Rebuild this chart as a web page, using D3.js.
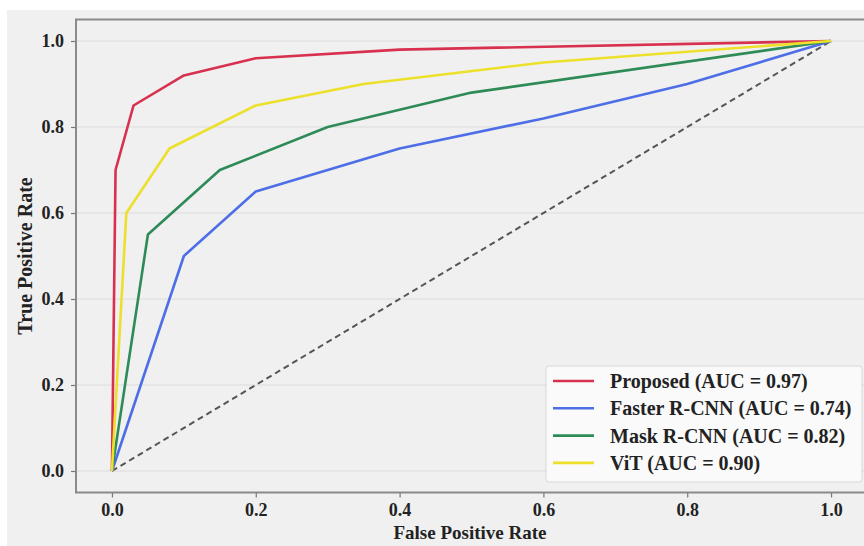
<!DOCTYPE html>
<html>
<head>
<meta charset="utf-8">
<script src="https://cdn.jsdelivr.net/npm/d3@7"></script>
<style>
  body { margin: 0; background: #fff; }
  svg { display: block; }
  text { font-family: "Liberation Serif", "Times New Roman", serif !important; font-weight: bold; fill: #222; }
</style>
</head>
<body>
<svg id="roc"></svg>
<script>
// ROC curves
const seriesNames = ["Proposed (AUC = 0.97)", "Faster R-CNN (AUC = 0.74)", "Mask R-CNN (AUC = 0.82)", "ViT (AUC = 0.90)"];
const seriesColors = ["#d8304f", "#4d6ee6", "#2e8b57", "#ece02a"];

const proposedFpr = [0, 0.005, 0.03, 0.1, 0.2, 0.4, 1.0];
const proposedTpr = [0, 0.70, 0.85, 0.92, 0.96, 0.98, 1.0];

const fasterFpr = [0, 0.1, 0.2, 0.4, 0.6, 0.8, 1.0];
const fasterTpr = [0, 0.50, 0.65, 0.75, 0.82, 0.90, 1.0];

const maskFpr = [0, 0.05, 0.15, 0.3, 0.5, 1.0];
const maskTpr = [0, 0.55, 0.70, 0.80, 0.88, 1.0];

const vitFpr = [0, 0.02, 0.08, 0.2, 0.35, 0.6, 1.0];
const vitTpr = [0, 0.60, 0.75, 0.85, 0.90, 0.95, 1.0];

const tickValues = [0.0, 0.2, 0.4, 0.6, 0.8, 1.0];

const series = [
  [proposedFpr, proposedTpr],
  [fasterFpr, fasterTpr],
  [maskFpr, maskTpr],
  [vitFpr, vitTpr]
].map(([fx, ty], i) => ({
  name: seriesNames[i],
  color: seriesColors[i],
  points: fx.map((f, j) => [f, ty[j]])
}));

const width = 864, height = 546;
const svg = d3.select("#roc").attr("width", width).attr("height", height);

// figure background
svg.append("rect").attr("x", 7).attr("y", 10).attr("width", width - 7).attr("height", height - 10)
  .attr("fill", "#f0f0f0");

const x = d3.scaleLinear().domain([-0.05, 1.05]).range([76, 867]);
const y = d3.scaleLinear().domain([-0.05, 1.05]).range([492.5, 19.5]);

// grid (horizontal)
svg.append("g").selectAll("line").data(tickValues).join("line")
  .attr("x1", x(-0.05)).attr("x2", x(1.05))
  .attr("y1", d => y(d)).attr("y2", d => y(d))
  .attr("stroke", "#dcdcdc").attr("stroke-width", 1);

// diagonal
svg.append("path")
  .attr("d", d3.line().x(d => x(d[0])).y(d => y(d[1]))([[0, 0], [1, 1]]))
  .attr("fill", "none").attr("stroke", "#555").attr("stroke-width", 2)
  .attr("stroke-dasharray", "6,4");

// curves
const line = d3.line().x(d => x(d[0])).y(d => y(d[1]));
svg.append("g").selectAll("path").data(series).join("path")
  .attr("d", d => line(d.points))
  .attr("fill", "none")
  .attr("stroke", d => d.color)
  .attr("stroke-width", 2.6)
  .attr("stroke-linejoin", "round");

// axes
const xAxis = svg.append("g").attr("transform", `translate(0,${y(-0.05)})`)
  .call(d3.axisBottom(x).tickValues(tickValues).tickFormat(d3.format(".1f")).tickSizeOuter(0).tickSize(5));
const yAxis = svg.append("g").attr("transform", `translate(${x(-0.05)},0)`)
  .call(d3.axisLeft(y).tickValues(tickValues).tickFormat(d3.format(".1f")).tickSizeOuter(0).tickSize(5));
[xAxis, yAxis].forEach(g => {
  g.attr("font-family", null).attr("font-size", null);
  g.select(".domain").remove();
  g.selectAll(".tick line").attr("stroke", "#777").attr("stroke-width", 1.2);
  g.selectAll(".tick text")
    .style("font-family", "'Liberation Serif', serif")
    .style("font-size", "18px").attr("fill", "#222");
});
xAxis.selectAll(".tick text").attr("dy", "0.71em").attr("y", 10.5);
yAxis.selectAll(".tick text").attr("x", -12);

// frame
svg.append("rect")
  .attr("x", x(-0.05)).attr("y", y(1.05))
  .attr("width", x(1.05) - x(-0.05)).attr("height", y(-0.05) - y(1.05))
  .attr("fill", "none").attr("stroke", "#8a8a8a").attr("stroke-width", 2);

// axis labels
svg.append("text").attr("x", 470).attr("y", 539).attr("text-anchor", "middle")
  .style("font-size", "19px").text("False Positive Rate");
svg.append("text").attr("transform", "translate(32,256) rotate(-90)").attr("text-anchor", "middle")
  .style("font-size", "20px").text("True Positive Rate");

// legend
const legend = svg.append("g").attr("transform", "translate(546,366)");
legend.append("rect").attr("width", 316).attr("height", 116).attr("rx", 3)
  .attr("fill", "#fafafa").attr("stroke", "#d8d8d8");
const item = legend.selectAll("g").data(series).join("g")
  .attr("transform", (d, i) => `translate(0,${15 + i * 27.3})`);
item.append("line").attr("x1", 7).attr("x2", 48)
  .attr("stroke", d => d.color).attr("stroke-width", 2.6);
item.append("text").attr("x", 64).attr("dy", "0.35em").style("font-size", "20px")
  .text(d => d.name);
</script>
</body>
</html>
